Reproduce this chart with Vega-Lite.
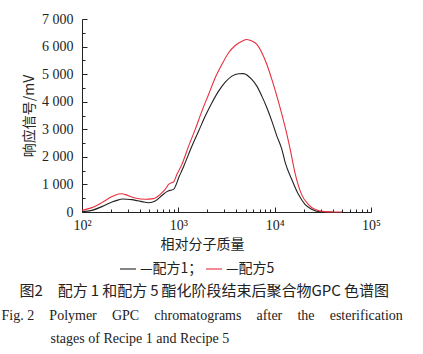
{
  "$schema": "https://vega.github.io/schema/vega-lite/v6.json",
  "width": 289,
  "height": 193,
  "padding": {"left": 1, "top": 12, "right": 10, "bottom": 4},
  "background": "white",
  "config": {"view": {"stroke": null}, "font": "Liberation Serif"},
  "data": {"values": [
    {"M": 100, "v": 15, "s": "配方1"}, {"M": 127, "v": 60, "s": "配方1"}, {"M": 161, "v": 195, "s": "配方1"},
    {"M": 205, "v": 362, "s": "配方1"}, {"M": 240, "v": 440, "s": "配方1"}, {"M": 260, "v": 471, "s": "配方1"},
    {"M": 290, "v": 465, "s": "配方1"}, {"M": 330, "v": 449, "s": "配方1"}, {"M": 380, "v": 405, "s": "配方1"},
    {"M": 419, "v": 377, "s": "配方1"}, {"M": 492, "v": 335, "s": "配方1"}, {"M": 576, "v": 399, "s": "配方1"},
    {"M": 676, "v": 600, "s": "配方1"}, {"M": 760, "v": 739, "s": "配方1"}, {"M": 830, "v": 790, "s": "配方1"},
    {"M": 893, "v": 820, "s": "配方1"}, {"M": 945, "v": 980, "s": "配方1"}, {"M": 1010, "v": 1250, "s": "配方1"},
    {"M": 1100, "v": 1540, "s": "配方1"}, {"M": 1178, "v": 1790, "s": "配方1"}, {"M": 1385, "v": 2391, "s": "配方1"},
    {"M": 1625, "v": 2935, "s": "配方1"}, {"M": 1903, "v": 3478, "s": "配方1"}, {"M": 2233, "v": 3964, "s": "配方1"},
    {"M": 2618, "v": 4384, "s": "配方1"}, {"M": 3070, "v": 4710, "s": "配方1"}, {"M": 3600, "v": 4928, "s": "配方1"},
    {"M": 4220, "v": 5015, "s": "配方1"}, {"M": 4750, "v": 5020, "s": "配方1"}, {"M": 5790, "v": 4808, "s": "配方1"},
    {"M": 6530, "v": 4565, "s": "配方1"}, {"M": 7360, "v": 4203, "s": "配方1"}, {"M": 8300, "v": 3783, "s": "配方1"},
    {"M": 9350, "v": 3297, "s": "配方1"}, {"M": 10540, "v": 2754, "s": "配方1"}, {"M": 11880, "v": 2272, "s": "配方1"},
    {"M": 12850, "v": 1800, "s": "配方1"}, {"M": 15060, "v": 1180, "s": "配方1"}, {"M": 17630, "v": 640, "s": "配方1"},
    {"M": 20640, "v": 280, "s": "配方1"}, {"M": 24200, "v": 100, "s": "配方1"}, {"M": 28200, "v": 15, "s": "配方1"},
    {"M": 32000, "v": 0, "s": "配方1"}, {"M": 40000, "v": 0, "s": "配方1"},
    {"M": 100, "v": 60, "s": "配方5"}, {"M": 127, "v": 159, "s": "配方5"}, {"M": 161, "v": 340, "s": "配方5"},
    {"M": 205, "v": 558, "s": "配方5"}, {"M": 240, "v": 650, "s": "配方5"}, {"M": 260, "v": 660, "s": "配方5"},
    {"M": 281, "v": 630, "s": "配方5"}, {"M": 357, "v": 507, "s": "配方5"}, {"M": 453, "v": 460, "s": "配方5"},
    {"M": 553, "v": 486, "s": "配方5"}, {"M": 649, "v": 641, "s": "配方5"}, {"M": 730, "v": 822, "s": "配方5"},
    {"M": 793, "v": 1000, "s": "配方5"}, {"M": 850, "v": 1060, "s": "配方5"}, {"M": 893, "v": 1090, "s": "配方5"},
    {"M": 967, "v": 1366, "s": "配方5"}, {"M": 1089, "v": 1728, "s": "配方5"}, {"M": 1279, "v": 2391, "s": "配方5"},
    {"M": 1497, "v": 2996, "s": "配方5"}, {"M": 1757, "v": 3660, "s": "配方5"}, {"M": 2060, "v": 4264, "s": "配方5"},
    {"M": 2415, "v": 4870, "s": "配方5"}, {"M": 2833, "v": 5351, "s": "配方5"}, {"M": 3324, "v": 5775, "s": "配方5"},
    {"M": 3895, "v": 6040, "s": "配方5"}, {"M": 4570, "v": 6196, "s": "配方5"}, {"M": 5150, "v": 6257, "s": "配方5"},
    {"M": 5800, "v": 6200, "s": "配方5"}, {"M": 6530, "v": 6076, "s": "配方5"}, {"M": 7360, "v": 5775, "s": "配方5"},
    {"M": 8300, "v": 5351, "s": "配方5"}, {"M": 9350, "v": 4808, "s": "配方5"}, {"M": 10540, "v": 4203, "s": "配方5"},
    {"M": 11880, "v": 3540, "s": "配方5"}, {"M": 13390, "v": 2815, "s": "配方5"}, {"M": 14500, "v": 2272, "s": "配方5"},
    {"M": 16300, "v": 1400, "s": "配方5"}, {"M": 19000, "v": 640, "s": "配方5"}, {"M": 22300, "v": 280, "s": "配方5"},
    {"M": 26100, "v": 100, "s": "配方5"}, {"M": 33000, "v": 15, "s": "配方5"}, {"M": 40000, "v": 0, "s": "配方5"},
    {"M": 50000, "v": 0, "s": "配方5"}
  ]},
  "mark": {"type": "line", "interpolate": "monotone", "strokeWidth": 1.1},
  "encoding": {
    "x": {
      "field": "M", "type": "quantitative",
      "scale": {"type": "log", "domain": [100, 100000]},
      "axis": {
        "values": [100, 200, 300, 400, 500, 600, 700, 800, 900, 1000, 2000, 3000, 4000, 5000, 6000, 7000, 8000, 9000, 10000, 20000, 30000, 40000, 50000, 60000, 70000, 80000, 90000, 100000],
        "labelExpr": "datum.value == 100 ? '10²' : datum.value == 1000 ? '10³' : datum.value == 10000 ? '10⁴' : datum.value == 100000 ? '10⁵' : ''",
        "labelOverlap": false,
        "labelFlush": false,
        "labelFontSize": 14,
        "labelColor": "#222",
        "labelPadding": 11,
        "tickSize": {"condition": {"test": "indexof([100,1000,10000,100000], datum.value) >= 0", "value": -5}, "value": -3},
        "tickColor": "#222",
        "domainColor": "#222",
        "grid": false,
        "title": "相对分子质量",
        "titleFont": "Noto Sans CJK SC",
        "titleFontSize": 14,
        "titleFontWeight": "normal",
        "titleColor": "#222",
        "titlePadding": 3,
        "titleX": 120
      }
    },
    "y": {
      "field": "v", "type": "quantitative",
      "scale": {"domain": [0, 7000], "nice": false},
      "axis": {
        "values": [0, 500, 1000, 1500, 2000, 2500, 3000, 3500, 4000, 4500, 5000, 5500, 6000, 6500, 7000],
        "labelExpr": "datum.value % 1000 == 0 ? replace(format(datum.value, ','), ',', ' ') : ''",
        "labelOverlap": false,
        "labelFontSize": 14,
        "labelColor": "#222",
        "labelPadding": 14,
        "tickSize": {"condition": {"test": "datum.value % 1000 == 0", "value": -5}, "value": -3},
        "tickColor": "#222",
        "domainColor": "#222",
        "grid": false,
        "title": "响应信号/mV",
        "titleFont": "Noto Sans CJK SC",
        "titleFontSize": 14,
        "titleFontWeight": "normal",
        "titleColor": "#222",
        "titlePadding": 5
      }
    },
    "color": {
      "field": "s", "type": "nominal",
      "scale": {"domain": ["配方1", "配方5"], "range": ["#222222", "#e8303e"]},
      "legend": {
        "orient": "none",
        "legendX": 37,
        "legendY": 241,
        "direction": "horizontal",
        "title": null,
        "symbolType": "stroke",
        "symbolSize": 256,
        "symbolStrokeWidth": 1.1,
        "labelFont": "Noto Sans CJK SC",
        "labelFontSize": 14,
        "labelColor": "#222",
        "labelOffset": 3,
        "labelExpr": "'—' + datum.label + (datum.label == '配方1' ? '；' : '')",
        "columnPadding": 0
      }
    }
  },
  "title": {
    "text": "\u200b\u2003\u2009图2\u2003配方\u20091\u2009和配方\u20095\u2009酯化阶段结束后聚合物GPC\u2009色谱图",
    "subtitle": ["Fig. 2\u2003\u200aPolymer\u2003\u200aGPC\u2003\u200achromatograms\u2003\u200aafter\u2003\u200athe\u2003\u200aesterification", "\u200b\u2003\u2003\u2003\u2002stages of Recipe 1 and Recipe 5"],
    "orient": "bottom",
    "anchor": "start",
    "frame": "bounds",
    "dx": -21,
    "font": "Noto Sans CJK SC",
    "fontSize": 15,
    "fontWeight": "normal",
    "color": "#222",
    "subtitleFont": "Liberation Serif",
    "subtitleFontSize": 14,
    "subtitleColor": "#222",
    "subtitlePadding": 10,
    "subtitleLineHeight": 23,
    "offset": 8
  }
}
